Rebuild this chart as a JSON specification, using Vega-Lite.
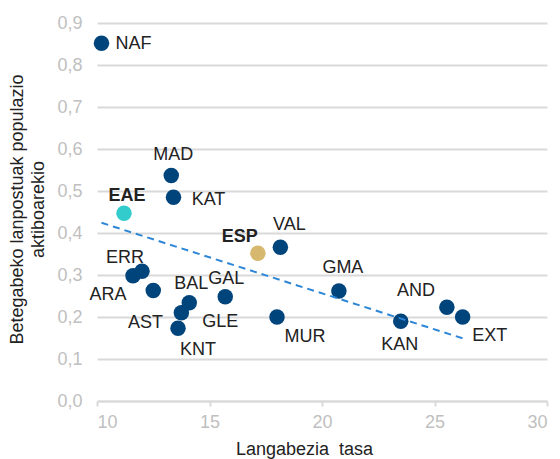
{
  "$schema": "https://vega.github.io/schema/vega-lite/v6.json",
  "autosize": "none",
  "width": 450,
  "height": 378,
  "padding": {"left": 97, "top": 23, "right": 13, "bottom": 58},
  "background": "white",
  "config": {
    "view": {"stroke": null},
    "font": "Liberation Sans",
    "text": {"font": "Liberation Sans", "fontSize": 18, "fill": "#222222", "align": "center", "baseline": "middle"}
  },
  "data": {
    "values": [
      {"id": "NAF", "x": 10.2, "y": 0.852, "grp": "reg"},
      {"id": "MAD", "x": 13.3, "y": 0.537, "grp": "reg"},
      {"id": "KAT", "x": 13.4, "y": 0.485, "grp": "reg"},
      {"id": "EAE", "x": 11.2, "y": 0.447, "grp": "EAE"},
      {"id": "ESP", "x": 17.15, "y": 0.352, "grp": "ESP"},
      {"id": "VAL", "x": 18.15, "y": 0.366, "grp": "reg"},
      {"id": "ARA", "x": 11.6, "y": 0.298, "grp": "reg"},
      {"id": "ERR", "x": 12.0, "y": 0.309, "grp": "reg"},
      {"id": "BAL", "x": 12.5, "y": 0.263, "grp": "reg"},
      {"id": "GLE", "x": 14.1, "y": 0.234, "grp": "reg"},
      {"id": "AST", "x": 13.75, "y": 0.21, "grp": "reg"},
      {"id": "KNT", "x": 13.6, "y": 0.173, "grp": "reg"},
      {"id": "GAL", "x": 15.7, "y": 0.248, "grp": "reg"},
      {"id": "MUR", "x": 18.0, "y": 0.2, "grp": "reg"},
      {"id": "GMA", "x": 20.75, "y": 0.262, "grp": "reg"},
      {"id": "KAN", "x": 23.5, "y": 0.19, "grp": "reg"},
      {"id": "AND", "x": 25.55, "y": 0.223, "grp": "reg"},
      {"id": "EXT", "x": 26.25, "y": 0.2, "grp": "reg"}
    ]
  },
  "encoding": {
    "x": {
      "field": "x", "type": "quantitative",
      "scale": {"domain": [10, 30], "nice": false, "zero": false},
      "axis": {
        "title": "Langabezia\u00a0\u00a0tasa",
        "values": [10, 15, 20, 25, 30],
        "grid": false,
        "domainColor": "#D9D9D9", "domainWidth": 2,
        "tickColor": "#D9D9D9", "tickWidth": 2, "tickSize": 5,
        "labelFont": "Liberation Sans", "labelFontSize": 18, "labelColor": "#BFBFBF",
        "labelPadding": 7,
        "titleFont": "Liberation Sans", "titleFontSize": 18, "titleFontWeight": "normal", "titleColor": "#222222",
        "titlePadding": 9, "titleX": 207
      }
    },
    "y": {
      "field": "y", "type": "quantitative",
      "scale": {"domain": [0, 0.9], "nice": false},
      "axis": {
        "title": ["Betegabeko lanpostuak populazio", "aktiboarekio"],
        "values": [0, 0.1, 0.2, 0.3, 0.4, 0.5, 0.6, 0.7, 0.8, 0.9],
        "labelExpr": "replace(format(datum.value, '.1f'), '.', ',')",
        "domain": false, "ticks": false, "tickSize": 0,
        "grid": true, "gridColor": "#D9D9D9", "gridWidth": 2,
        "labelFont": "Liberation Sans", "labelFontSize": 18, "labelColor": "#BFBFBF",
        "labelPadding": 15,
        "titleFont": "Liberation Sans", "titleFontSize": 18, "titleFontWeight": "normal", "titleColor": "#222222",
        "titlePadding": 9, "titleLineHeight": 21, "titleY": 186
      }
    }
  },
  "layer": [
    {
      "mark": {"type": "circle", "size": 240, "opacity": 1},
      "encoding": {
        "color": {
          "field": "grp", "type": "nominal",
          "scale": {"domain": ["reg", "EAE", "ESP"], "range": ["#00447C", "#33CCCC", "#D6B86E"]},
          "legend": null
        }
      }
    },
    {
      "transform": [
        {"filter": "datum.id !== 'ESP'"},
        {"regression": "y", "on": "x"}
      ],
      "mark": {"type": "line", "color": "#2E86D6", "strokeWidth": 2, "strokeDash": [7, 5]},
      "encoding": {}
    },
    {"transform": [{"filter": "datum.id === 'NAF'"}], "mark": {"type": "text", "dx": 32, "dy": 1}, "encoding": {"text": {"field": "id"}}},
    {"transform": [{"filter": "datum.id === 'MAD'"}], "mark": {"type": "text", "dx": 2, "dy": -20}, "encoding": {"text": {"field": "id"}}},
    {"transform": [{"filter": "datum.id === 'KAT'"}], "mark": {"type": "text", "dx": 35, "dy": 3}, "encoding": {"text": {"field": "id"}}},
    {"transform": [{"filter": "datum.id === 'EAE'"}], "mark": {"type": "text", "dx": 3, "dy": -17, "fontWeight": "bold"}, "encoding": {"text": {"field": "id"}}},
    {"transform": [{"filter": "datum.id === 'ESP'"}], "mark": {"type": "text", "dx": -18, "dy": -16, "fontWeight": "bold"}, "encoding": {"text": {"field": "id"}}},
    {"transform": [{"filter": "datum.id === 'VAL'"}], "mark": {"type": "text", "dx": 9, "dy": -22}, "encoding": {"text": {"field": "id"}}},
    {"transform": [{"filter": "datum.id === 'ERR'"}], "mark": {"type": "text", "dx": -17, "dy": -13}, "encoding": {"text": {"field": "id"}}},
    {"transform": [{"filter": "datum.id === 'ARA'"}], "mark": {"type": "text", "dx": -25, "dy": 19}, "encoding": {"text": {"field": "id"}}},
    {"transform": [{"filter": "datum.id === 'BAL'"}], "mark": {"type": "text", "dx": 38, "dy": -7}, "encoding": {"text": {"field": "id"}}},
    {"transform": [{"filter": "datum.id === 'GAL'"}], "mark": {"type": "text", "dx": 1, "dy": -18}, "encoding": {"text": {"field": "id"}}},
    {"transform": [{"filter": "datum.id === 'GLE'"}], "mark": {"type": "text", "dx": 31, "dy": 19}, "encoding": {"text": {"field": "id"}}},
    {"transform": [{"filter": "datum.id === 'AST'"}], "mark": {"type": "text", "dx": -36, "dy": 10}, "encoding": {"text": {"field": "id"}}},
    {"transform": [{"filter": "datum.id === 'KNT'"}], "mark": {"type": "text", "dx": 20, "dy": 22}, "encoding": {"text": {"field": "id"}}},
    {"transform": [{"filter": "datum.id === 'MUR'"}], "mark": {"type": "text", "dx": 28, "dy": 20}, "encoding": {"text": {"field": "id"}}},
    {"transform": [{"filter": "datum.id === 'GMA'"}], "mark": {"type": "text", "dx": 4, "dy": -23}, "encoding": {"text": {"field": "id"}}},
    {"transform": [{"filter": "datum.id === 'AND'"}], "mark": {"type": "text", "dx": -31, "dy": -16}, "encoding": {"text": {"field": "id"}}},
    {"transform": [{"filter": "datum.id === 'KAN'"}], "mark": {"type": "text", "dx": -1, "dy": 24}, "encoding": {"text": {"field": "id"}}},
    {"transform": [{"filter": "datum.id === 'EXT'"}], "mark": {"type": "text", "dx": 27, "dy": 19}, "encoding": {"text": {"field": "id"}}}
  ]
}
